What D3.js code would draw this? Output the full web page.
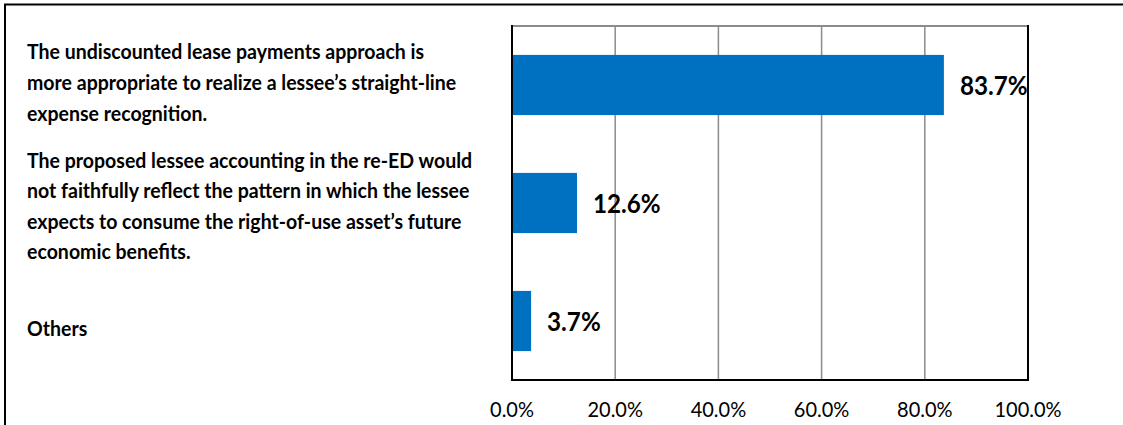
<!DOCTYPE html>
<html>
<head>
<meta charset="utf-8">
<script src="https://cdn.jsdelivr.net/npm/d3@7/dist/d3.min.js"></script>
<style>
  html, body { margin: 0; padding: 0; background: #fff; }
  svg { display: block; }
</style>
</head>
<body>
<svg id="chart" width="1123" height="425"></svg>
<script>
// Survey responses: reasons given, share of respondents (%)
const categories = [
  "The undiscounted lease payments approach is\nmore appropriate to realize a lessee\u2019s straight-line\nexpense recognition.",
  "The proposed lessee accounting in the re-ED would\nnot faithfully reflect the pattern in which the lessee\nexpects to consume the right-of-use asset\u2019s future\neconomic benefits.",
  "Others"
];
const values = [83.7, 12.6, 3.7];
const tickValues = [0, 20, 40, 60, 80, 100];

const svg = d3.select("#chart");
const W = 1123, H = 425;
const plot = { left: 512, right: 1028, top: 26, bottom: 380 };
const BLUE = "#0070C0";
const GRID = "#8C8C8C";
const FONT = "Lato, 'Open Sans', sans-serif";

// outer frame (runs past the right and bottom edges)
svg.append("rect")
  .attr("x", 5).attr("y", 4.5)
  .attr("width", W + 20).attr("height", H + 20)
  .attr("fill", "#fff").attr("stroke", "#000").attr("stroke-width", 2);

const x = d3.scaleLinear().domain([0, 100]).range([plot.left, plot.right]);
const y = d3.scaleBand()
  .domain(d3.range(categories.length))
  .range([plot.top, plot.bottom])
  .paddingInner(0.49).paddingOuter(0.245);

// vertical gridlines
svg.append("g")
  .selectAll("line")
  .data(tickValues.filter(t => t > 0 && t < 100))
  .join("line")
  .attr("x1", d => x(d)).attr("x2", d => x(d))
  .attr("y1", plot.top).attr("y2", plot.bottom)
  .attr("stroke", GRID).attr("stroke-width", 1.5);

// top edge of plot area
svg.append("line")
  .attr("x1", plot.left).attr("x2", plot.right)
  .attr("y1", plot.top).attr("y2", plot.top)
  .attr("stroke", GRID).attr("stroke-width", 2);

// bars
svg.append("g")
  .selectAll("rect")
  .data(values)
  .join("rect")
  .attr("x", x(0))
  .attr("y", (d, i) => y(i))
  .attr("width", d => x(d) - x(0))
  .attr("height", y.bandwidth())
  .attr("fill", BLUE);

// right, bottom and left edges
svg.append("line")
  .attr("x1", x(100)).attr("x2", x(100))
  .attr("y1", plot.top - 1).attr("y2", plot.bottom + 1)
  .attr("stroke", "#000").attr("stroke-width", 2);
svg.append("line")
  .attr("x1", plot.left).attr("x2", plot.right + 1)
  .attr("y1", plot.bottom).attr("y2", plot.bottom)
  .attr("stroke", "#000").attr("stroke-width", 2);
svg.append("line")
  .attr("x1", plot.left).attr("x2", plot.left)
  .attr("y1", plot.top - 1).attr("y2", plot.bottom + 1)
  .attr("stroke", "#000").attr("stroke-width", 2);

// value labels
svg.append("g")
  .selectAll("text")
  .data(values)
  .join("text")
  .attr("transform", (d, i) =>
    `translate(${x(d) + 16},${y(i) + y.bandwidth() / 2 + 10}) scale(0.88,1)`)
  .attr("font-family", FONT).attr("font-weight", 700)
  .attr("font-size", 27.5).attr("fill", "#000")
  .text(d => d.toFixed(1) + "%");

// x axis tick labels
const fmt = d => d.toFixed(1) + "%";
svg.append("g")
  .selectAll("text")
  .data(tickValues)
  .join("text")
  .attr("transform", d => `translate(${x(d)},417) scale(0.93,1)`)
  .attr("text-anchor", "middle")
  .attr("font-family", FONT).attr("font-size", 21.5).attr("fill", "#000")
  .text(fmt);

// category labels beside each band
const lineH = 30.6;
const blockShift = [-2.5, 3, 7];
const catG = svg.append("g");
categories.forEach((c, i) => {
  const lines = c.split("\n");
  const cy = y(i) + y.bandwidth() / 2 + blockShift[i];
  const y0 = cy - (lines.length - 1) * lineH / 2;
  lines.forEach((ln, j) => {
    catG.append("text")
      .attr("transform", `translate(27,${y0 + j * lineH + 7.5}) scale(0.93,1)`)
      .attr("font-family", FONT).attr("font-weight", 700)
      .attr("font-size", 21).attr("fill", "#000")
      .text(ln);
  });
});
</script>
</body>
</html>
